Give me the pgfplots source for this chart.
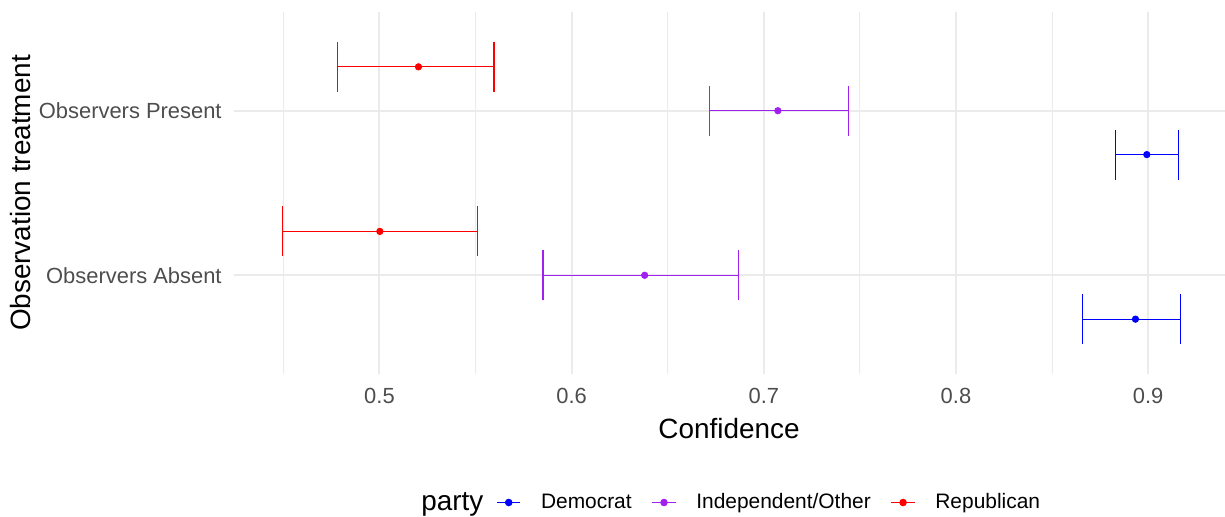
\documentclass[border=0pt]{standalone}
\usepackage{fontspec}
\setmainfont{Liberation Sans}
\usepackage{pgfplots}
\pgfplotsset{compat=1.18}
\definecolor{dem}{HTML}{0000FF}
\definecolor{ind}{HTML}{A020F0}
\definecolor{rep}{HTML}{FF0000}
\definecolor{gridc}{HTML}{EBEBEB}
\definecolor{tickc}{HTML}{4D4D4D}
\pgfplotsset{
  cileg/.style={legend image code/.code={\draw[mark repeat=2,mark phase=2,##1] plot coordinates {(0bp,0bp) (5.875bp,0bp) (11.75bp,0bp)};}},
  ciplot/.style={only marks, mark=*, mark size=1.6bp, color=#1, draw=#1, fill=#1,
    /pgfplots/error bars/x dir=both, /pgfplots/error bars/x explicit,
    /pgfplots/error bars/error mark=|,
    /pgfplots/error bars/error bar style={line width=0.55bp, draw=#1, color=#1},
    /pgfplots/error bars/error mark options={mark size=12.5bp, line width=0.55bp, draw=#1, color=#1}},
}
\begin{document}
\begin{tikzpicture}
\useasboundingbox (0,0) rectangle (612.5bp,258.5bp);
\begin{axis}[
  at={(117bp,71.5bp)}, anchor=south west,
  scale only axis, width=495.5bp, height=181bp,
  xmin=0.4243, xmax=0.94, ymin=0.4, ymax=2.6,
  axis line style={draw=none}, tick style={draw=none},
  xtick={0.5,0.6,0.7,0.8,0.9}, xticklabels={0.5,0.6,0.7,0.8,0.9},
  minor xtick={0.45,0.55,0.65,0.75,0.85,0.95},
  ytick={1,2}, yticklabels={Observers Absent,Observers Present},
  xmajorgrids, xminorgrids, ymajorgrids,
  major grid style={gridc, line width=1bp},
  minor grid style={gridc, line width=0.5bp},
  xticklabel style={font=\fontsize{11}{13}\selectfont, text=tickc, anchor=base, yshift=-14.5bp, inner sep=0pt},
  yticklabel style={font=\fontsize{11}{13}\selectfont, text=tickc, anchor=east, inner sep=0pt, xshift=-6bp},
  legend columns=-1,
  legend style={at={(rel axis cs:0.1887,-0.355)}, anchor=west, draw=none, fill=none, inner sep=0pt,
    font=\fontsize{10.5}{12}\selectfont, nodes={inner sep=0pt},
    /tikz/column 1/.style={column sep=0pt},
    /tikz/column 2/.style={column sep=6.5bp},
    /tikz/column 3/.style={column sep=10bp},
    /tikz/column 4/.style={column sep=10bp},
    /tikz/column 5/.style={column sep=10bp},
    /tikz/column 6/.style={column sep=10bp},
    /tikz/column 7/.style={column sep=10bp},
    /tikz/column 8/.style={column sep=0bp}},
]
\addlegendimage{empty legend}
\addlegendentry{\fontsize{14}{16}\selectfont party}
\addlegendimage{cileg, dem, line width=0.55bp, mark=*, mark size=1.6bp}
\addlegendentry{Democrat}
\addlegendimage{cileg, ind, line width=0.55bp, mark=*, mark size=1.6bp}
\addlegendentry{Independent/Other}
\addlegendimage{cileg, rep, line width=0.55bp, mark=*, mark size=1.6bp}
\addlegendentry{Republican}

% Democrat
\addplot[forget plot, ciplot=dem] coordinates {
  (0.8993,1.7333) += (0.0167,0) -= (0.0165,0)
  (0.8934,0.7333) += (0.0236,0) -= (0.0277,0)
};
% Independent/Other
\addplot[forget plot, ciplot=ind] coordinates {
  (0.7073,2) += (0.0368,0) -= (0.0357,0)
  (0.6380,1) += (0.0489,0) -= (0.0529,0)
};
% Republican
\addplot[forget plot, ciplot=rep] coordinates {
  (0.5203,2.2667) += (0.0393,0) -= (0.0423,0)
  (0.5002,1.2667) += (0.0508,0) -= (0.0508,0)
};
\end{axis}
\node[rotate=90, anchor=base, font=\fontsize{14}{16}\selectfont] at (15bp,162bp) {Observation treatment};
\node[anchor=base, font=\fontsize{14}{16}\selectfont] at (364.5bp,39.5bp) {Confidence};
\end{tikzpicture}
\end{document}
